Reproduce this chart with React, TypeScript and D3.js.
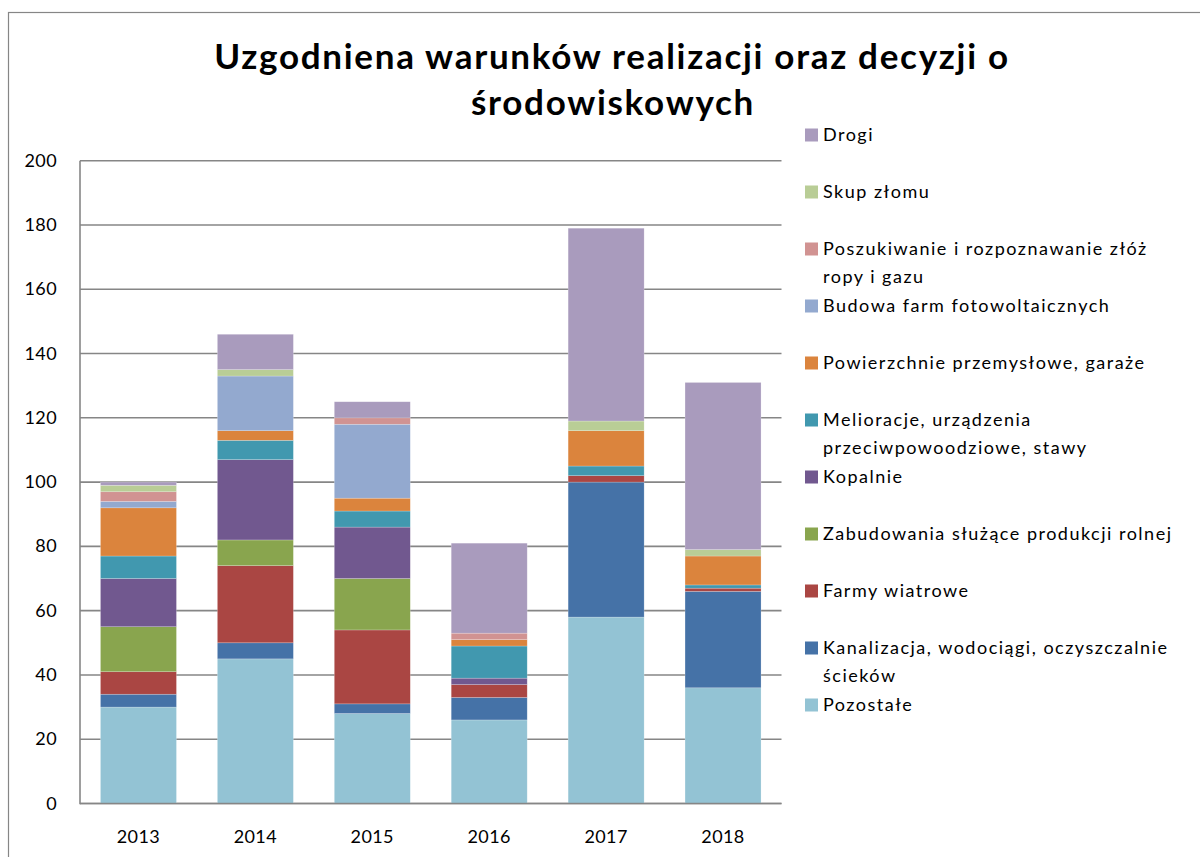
import * as d3 from 'd3';

const years = ['2013', '2014', '2015', '2016', '2017', '2018'];

// series listed bottom of stack first
const seriesNames = [
  'Pozostałe',
  'Kanalizacja, wodociągi, oczyszczalnie\nścieków',
  'Farmy wiatrowe',
  'Zabudowania służące produkcji rolnej',
  'Kopalnie',
  'Melioracje, urządzenia\nprzeciwpowoodziowe, stawy',
  'Powierzchnie przemysłowe, garaże',
  'Budowa farm fotowoltaicznych',
  'Poszukiwanie i rozpoznawanie złóż\nropy i gazu',
  'Skup złomu',
  'Drogi',
];

const pozostale = [30, 45, 28, 26, 58, 36];
const kanalizacja = [4, 5, 3, 7, 42, 30];
const farmyWiatrowe = [7, 24, 23, 4, 2, 1];
const zabudowania = [14, 8, 16, 0, 0, 0];
const kopalnie = [15, 25, 16, 2, 0, 0];
const melioracje = [7, 6, 5, 10, 3, 1];
const powierzchnie = [15, 3, 4, 2, 11, 9];
const fotowoltaika = [2, 17, 23, 0, 0, 0];
const poszukiwanie = [3, 0, 2, 2, 0, 0];
const skupZlomu = [2, 2, 0, 0, 3, 2];
const drogi = [1, 11, 5, 28, 60, 52];

const seriesValues = [
  pozostale, kanalizacja, farmyWiatrowe, zabudowania, kopalnie, melioracje,
  powierzchnie, fotowoltaika, poszukiwanie, skupZlomu, drogi,
];

const colors = [
  '#93c3d4', '#4572a7', '#aa4643', '#89a54e', '#71588f', '#4198af',
  '#db843d', '#93a9cf', '#d19392', '#b9cd96', '#a99bbd',
];

const yTicks = [0, 20, 40, 60, 80, 100, 120, 140, 160, 180, 200];

const FONT = 'Lato, Calibri, sans-serif';

export default function App() {
  const plot = { left: 80, right: 781.5, top: 160.7, bottom: 803.5 };

  const rows = years.map((year, i) => {
    const row: Record<string, any> = { year };
    seriesNames.forEach((name, s) => (row[name] = seriesValues[s][i]));
    return row;
  });
  const stacked = d3.stack().keys(seriesNames)(rows as any);

  const x = d3.scaleBand().domain(years).range([plot.left, plot.right]).paddingInner(0.35).paddingOuter(0.175);
  const y = d3.scaleLinear().domain([0, 200]).range([plot.bottom, plot.top]);

  const legendItems = seriesNames.map((n, i) => ({ name: n, color: colors[i] })).reverse();

  return (
    <svg width={1200} height={857} style={{ position: 'absolute', left: 0, top: 0, background: '#fff' }}>
      <rect x={8.5} y={12.5} width={1250} height={900} fill="#fff" stroke="#868686" strokeWidth={1.2} />

      <text x={612} y={69} textAnchor="middle" fontFamily={FONT} fontWeight="bold" fontSize={35} letterSpacing={1.7} fill="#000">
        Uzgodniena warunków realizacji oraz decyzji o
      </text>
      <text x={613} y={115} textAnchor="middle" fontFamily={FONT} fontWeight="bold" fontSize={35} letterSpacing={1.7} fill="#000">
        środowiskowych
      </text>

      {/* gridlines */}
      {yTicks.map((t) => (
        <g key={t}>
          <line x1={plot.left} x2={plot.right} y1={y(t)} y2={y(t)} stroke="#868686" strokeWidth={1.6} />
          <text x={57} y={y(t) + 6} textAnchor="end" fontFamily={FONT} fontSize={18} letterSpacing={0.4} fill="#000">
            {t}
          </text>
        </g>
      ))}
      <line x1={plot.left} x2={plot.left} y1={plot.top} y2={plot.bottom + 0.8} stroke="#868686" strokeWidth={1.6} />

      {/* bars */}
      {stacked.map((layer, s) => (
        <g key={s} fill={colors[s]}>
          {layer.map((d, i) =>
            d[1] - d[0] > 0 ? (
              <rect
                key={i}
                x={x(years[i])}
                y={y(d[1])}
                width={x.bandwidth()}
                height={y(d[0]) - y(d[1])}
                stroke="#ffffff"
                strokeOpacity={0.35}
                strokeWidth={0.6}
              />
            ) : null
          )}
        </g>
      ))}
      <line x1={plot.left} x2={plot.right} y1={plot.bottom} y2={plot.bottom} stroke="#868686" strokeWidth={1.6} />

      {years.map((yr) => (
        <text key={yr} x={x(yr)! + x.bandwidth() / 2} y={843} textAnchor="middle" fontFamily={FONT} fontSize={18} letterSpacing={0.4} fill="#000">
          {yr}
        </text>
      ))}

      {/* legend */}
      {legendItems.map((item, i) => {
        const cy = 135 + i * 57;
        const lines = item.name.split('\n');
        return (
          <g key={i}>
            <rect x={805} y={cy - 6.5} width={13} height={13} fill={item.color} />
            {lines.map((ln, k) => (
              <text key={k} x={823} y={cy + 6 + k * 28} fontFamily={FONT} fontSize={18} letterSpacing={1.5} fill="#000">
                {ln}
              </text>
            ))}
          </g>
        );
      })}
    </svg>
  );
}
